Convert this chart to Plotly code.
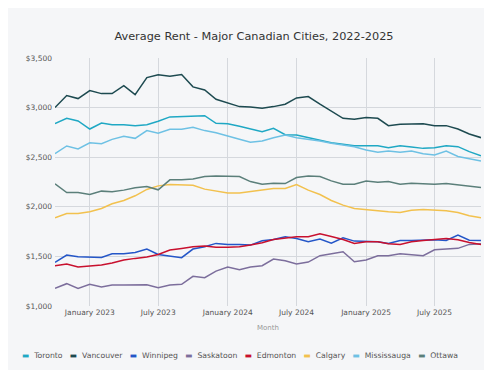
import pandas as pd
import plotly.graph_objects as go

months = pd.date_range("2022-10-01", "2025-11-01", freq="MS")

cities = ["Toronto", "Vancouver", "Winnipeg", "Saskatoon", "Edmonton", "Calgary", "Mississauga", "Ottawa"]
colors = ["#1fa8c4", "#1d4a50", "#2456c8", "#7c6e9c", "#c8102e", "#f2c14e", "#6ec1e4", "#5b7f7a"]

toronto = [2838, 2892, 2865, 2784, 2845, 2828, 2828, 2818, 2828, 2862, 2906, 2912, 2919, 2919, 2842, 2838, 2811, 2784,
           2758, 2791, 2727, 2724, 2697, 2667, 2646, 2630, 2616, 2616, 2616, 2596, 2616, 2603, 2589, 2596, 2616, 2606, 2556, 2515]
vancouver = [3000, 3121, 3091, 3172, 3141, 3141, 3222, 3131, 3303, 3330, 3316, 3333, 3209, 3178, 3084, 3047, 3010, 3007,
             2993, 3010, 3034, 3098, 3111, 3034, 2966, 2892, 2882, 2899, 2892, 2818, 2832, 2838, 2838, 2818, 2818, 2784, 2734, 2697]
winnipeg = [1440, 1513, 1497, 1490, 1490, 1527, 1527, 1540, 1574, 1520, 1507, 1487, 1574, 1597, 1631, 1621, 1621, 1614,
            1658, 1671, 1698, 1681, 1648, 1674, 1634, 1688, 1654, 1648, 1648, 1631, 1661, 1661, 1668, 1668, 1661, 1715, 1664, 1661]
saskatoon = [1178, 1225, 1178, 1218, 1191, 1211, 1211, 1211, 1215, 1185, 1211, 1218, 1299, 1285, 1352, 1393, 1366, 1393,
             1406, 1473, 1456, 1423, 1443, 1507, 1527, 1547, 1446, 1463, 1507, 1507, 1527, 1520, 1507, 1567, 1574, 1581, 1621, 1628]
edmonton = [1406, 1423, 1393, 1403, 1413, 1433, 1463, 1480, 1493, 1520, 1564, 1580, 1597, 1604, 1591, 1591, 1597, 1614,
            1638, 1671, 1688, 1698, 1698, 1728, 1701, 1671, 1631, 1648, 1648, 1628, 1621, 1648, 1661, 1668, 1681, 1668, 1641, 1621]
calgary = [1889, 1933, 1933, 1950, 1983, 2030, 2064, 2111, 2175, 2211, 2225, 2225, 2218, 2178, 2158, 2138, 2138, 2151,
           2168, 2185, 2185, 2225, 2168, 2124, 2064, 2017, 1983, 1970, 1956, 1950, 1943, 1966, 1973, 1970, 1960, 1943, 1909, 1889]
mississauga = [2535, 2613, 2583, 2646, 2636, 2680, 2710, 2690, 2768, 2741, 2781, 2781, 2801, 2768, 2747, 2710, 2680, 2650,
               2663, 2697, 2724, 2697, 2683, 2663, 2640, 2623, 2606, 2572, 2549, 2562, 2549, 2562, 2535, 2522, 2562, 2508, 2488, 2461]
ottawa = [2232, 2144, 2144, 2124, 2158, 2151, 2168, 2191, 2205, 2171, 2272, 2272, 2280, 2305, 2311, 2311, 2305, 2254,
          2227, 2237, 2234, 2295, 2311, 2305, 2261, 2227, 2227, 2261, 2247, 2254, 2227, 2237, 2234, 2227, 2234, 2221, 2204, 2194]

series = [toronto, vancouver, winnipeg, saskatoon, edmonton, calgary, mississauga, ottawa]

y_ticks = [1000, 1500, 2000, 2500, 3000, 3500]

bg = "#f5f6f8"
grid = "#d5d8dd"
font = "DejaVu Sans"

fig = go.Figure()
for name, vals, col in zip(cities, series, colors):
    fig.add_trace(go.Scatter(x=months, y=vals, name=name, mode="lines",
                             line=dict(color=col, width=1.5), showlegend=False))

legend_text = "&#160;&#160;&#160;".join(
    f"<span style='color:{c}'>▬</span>&#160;&#160;{n}" for n, c in zip(cities, colors)
)

fig.update_layout(
    width=492, height=370,
    margin=dict(l=47, r=19, t=50, b=72),
    paper_bgcolor=bg, plot_bgcolor=bg,
    font=dict(family=font, size=8, color="#555"),
    title=dict(text="Average Rent - Major Canadian Cities, 2022-2025", x=(246 - 47) / 426, xref="paper",
               xanchor="center", y=1 - 28 / 370, yanchor="middle",
               font=dict(family=font, size=11.3, color="#333")),
    xaxis=dict(range=[months[0], months[-1]], tickformat="%B %Y", dtick="M6", tick0="2023-01-01",
               showgrid=True, gridcolor=grid, gridwidth=1, zeroline=False, showline=False,
               tickfont=dict(size=7.5, color="#555"),
               title=dict(text="Month", standoff=9, font=dict(size=7, color="#999"))),
    yaxis=dict(range=[1000, 3500], tickvals=y_ticks, tickformat="$,.0f",
               showgrid=True, gridcolor=grid, gridwidth=1, zeroline=False, showline=False,
               tickfont=dict(size=7.5, color="#555"), ticklabelstandoff=2),
    annotations=[dict(text=legend_text, xref="paper", yref="paper", x=(232 - 47) / 426, xanchor="center",
                      y=-(347 - 298) / 248, yanchor="middle", showarrow=False,
                      font=dict(family=font, size=7.7, color="#555"))],
)

fig.write_html("out.html")
